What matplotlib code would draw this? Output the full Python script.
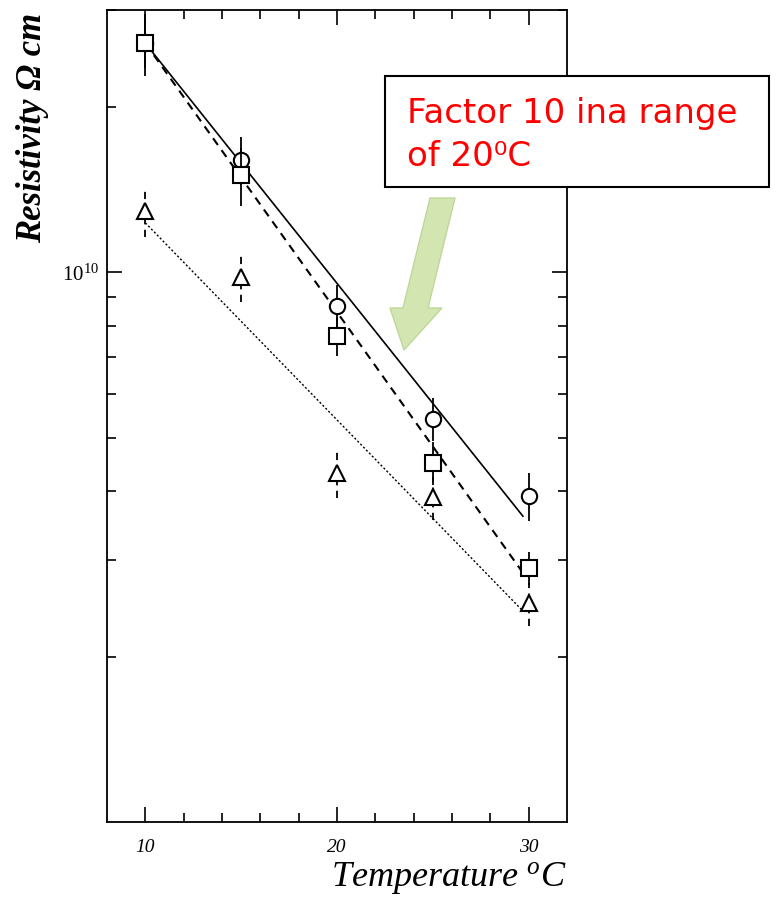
import numpy as np
import matplotlib
matplotlib.use('Agg')
import matplotlib.pyplot as plt
from matplotlib.patches import Polygon, Rectangle
from matplotlib.ticker import FixedLocator, NullFormatter

plt.rcParams['mathtext.fontset'] = 'custom'
plt.rcParams['mathtext.rm'] = 'Liberation Serif'
plt.rcParams['mathtext.it'] = 'Liberation Serif:italic'

# data
temps = [10, 15, 20, 25, 30]
rho_circle = [2.61e10, 1.60e10, 8.7e9, 5.42e9, 3.92e9]
rho_square = [2.61e10, 1.50e10, 7.67e9, 4.50e9, 2.90e9]
rho_triangle = [1.29e10, 9.8e9, 4.31e9, 3.90e9, 2.50e9]
err_circle = [0.10, 0.10, 0.09, 0.09, 0.10]
err_square = [0.13, 0.12, 0.08, 0.09, 0.07]
err_triangle = [0.10, 0.10, 0.10, 0.09, 0.09]

# fitted lines (end points)
fit_x = [10, 29.7]
fit_circle = [2.61e10, 3.6e9]
fit_square = [2.61e10, 2.84e9]
fit_triangle = [1.23e10, 2.42e9]

fig = plt.figure(figsize=(7.76, 8.97), dpi=100)
ax = fig.add_axes([107/776, 1-822/897, 460/776, 812/897])

ax.set_yscale('log')
ax.set_xlim(8, 32)
ax.set_ylim(1e9, 3e10)

ax.plot(fit_x, fit_circle, color='black', lw=1.2, ls='-')
ax.plot(fit_x, fit_square, color='black', lw=1.5, ls=(0, (4, 3)))
ax.plot(fit_x, fit_triangle, color='black', lw=1.0, ls=(0, (1.5, 1.5)))

def draw_series(vals, errs, marker, ms, ebls):
    v = np.array(vals)
    e = v * np.array(errs)
    eb = ax.errorbar(temps, v, yerr=e, fmt='none', ecolor='black', elinewidth=1.3, capsize=0)
    eb[2][0].set_linestyle(ebls)
    ax.plot(temps, v, ls='none', marker=marker, ms=ms, mfc='white', mec='black', mew=1.5)

draw_series(rho_circle, err_circle, 'o', 11, '-')
draw_series(rho_triangle, err_triangle, '^', 11, (0, (4, 3)))
draw_series(rho_square, err_square, 's', 11, '-')

ax.set_xticks([10, 20, 30])
ax.set_xticks(np.arange(12, 30, 2), minor=True)
ax.set_xticklabels(['10', '20', '30'], fontfamily='Liberation Serif', fontstyle='italic', fontsize=14)
ax.yaxis.set_major_locator(FixedLocator([1e10]))
ax.yaxis.set_minor_locator(FixedLocator([k*1e9 for k in range(2, 10)] + [2e10, 3e10]))
ax.yaxis.set_minor_formatter(NullFormatter())
ax.set_yticklabels([r'$\mathit{10}^{\mathit{10}}$'], fontsize=15)
ax.tick_params(which='both', direction='in', top=True, right=True, width=1.2, pad=12)
ax.tick_params(which='major', length=11)
ax.tick_params(which='minor', length=6.5)
ax.tick_params(axis='y', pad=6)
for s in ax.spines.values():
    s.set_linewidth(1.3)

fig.text(567/776, 1-886/897, r'Temperature $^{o}$C', fontfamily='Liberation Serif',
         fontstyle='italic', fontsize=26, ha='right', va='baseline')
fig.text(33/776, 1-128/897, 'Resistivity \u03a9 cm', fontfamily='Liberation Serif',
         fontstyle='italic', fontweight='bold', fontsize=25, rotation=90, ha='center', va='center')

# annotation box
fig.patches.append(Rectangle((385/776, 1-187/897), 384/776, 111/897, transform=fig.transFigure,
                             facecolor='white', edgecolor='black', lw=1.5, zorder=5))
fig.text(407/776, 1-123/897, 'Factor 10 ina range', color='red', fontsize=24.5,
         fontfamily='DejaVu Sans', ha='left', va='baseline', zorder=6)
fig.text(407/776, 1-166/897, 'of 20\u2070C', color='red', fontsize=24.5,
         fontfamily='DejaVu Sans', ha='left', va='baseline', zorder=6)

# green arrow
pts = [(430, 198), (455, 198), (428, 308), (442, 308), (404, 350), (390, 308), (403, 308)]
fig.patches.append(Polygon([(x/776, 1-y/897) for x, y in pts], closed=True, transform=fig.transFigure,
                           facecolor='#d3e6b1', edgecolor='#bfd79a', lw=1.0, zorder=5))

fig.savefig('out.png', dpi=100)
